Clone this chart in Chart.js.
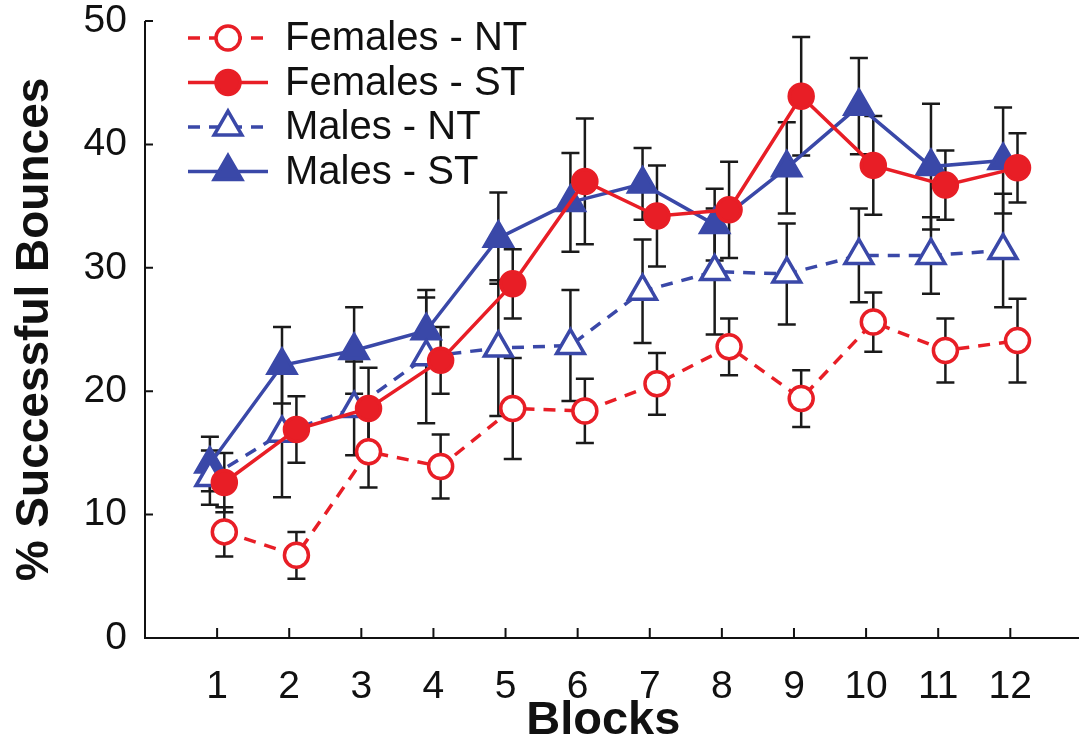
<!DOCTYPE html>
<html>
<head>
<meta charset="utf-8">
<script src="https://cdn.jsdelivr.net/npm/chart.js@4.4.1/dist/chart.umd.min.js"></script>
<style>
  html, body { margin: 0; padding: 0; background: #fff; }
</style>
</head>
<body>
<canvas id="chart" width="1081" height="751"></canvas>
<script>
// Values
const blocks = [1, 2, 3, 4, 5, 6, 7, 8, 9, 10, 11, 12];
const yTicks = [0, 10, 20, 30, 40, 50];

const femalesNT    = [8.6, 6.7, 15.1, 13.9, 18.6, 18.4, 20.6, 23.6, 19.4, 25.6, 23.3, 24.1];
const femalesNTErr = [2.0, 1.9, 2.9, 2.6, 4.1, 2.6, 2.5, 2.3, 2.3, 2.4, 2.6, 3.4];

const femalesST    = [12.6, 16.9, 18.6, 22.5, 28.7, 37.0, 34.2, 34.7, 43.9, 38.3, 36.7, 38.1];
const femalesSTErr = [2.4, 2.7, 3.3, 2.7, 2.8, 5.1, 4.1, 3.9, 4.8, 4.0, 2.8, 2.8];

const malesNT    = [13.0, 16.6, 18.6, 22.8, 23.5, 23.7, 28.1, 29.7, 29.5, 31.0, 31.0, 31.4];
const malesNTErr = [2.2, 5.2, 3.8, 5.4, 5.5, 4.5, 4.2, 5.1, 4.1, 3.8, 3.1, 4.6];

const malesST    = [14.1, 22.1, 23.3, 24.9, 32.4, 35.3, 36.8, 33.5, 38.1, 43.1, 38.2, 38.7];
const malesSTErr = [2.2, 3.1, 3.5, 2.7, 3.7, 4.0, 2.9, 2.9, 3.7, 3.9, 5.1, 4.3];

const RED = '#e81e26';
const BLUE = '#3a48a8';
const FONT = '"Liberation Sans", Arial, Helvetica, sans-serif';

// small horizontal shift so the groups don't sit on top of each other
function makeSeries(label, values, errs, shift, color, style, dashed, filled, radius) {
  return {
    label: label,
    data: blocks.map((b, i) => ({ x: b + shift, y: values[i], err: errs[i] })),
    borderColor: color,
    borderWidth: 3.5,
    borderDash: dashed ? [12, 9] : [],
    pointStyle: style,
    pointRadius: radius,
    pointHoverRadius: radius,
    pointBorderWidth: 3.5,
    pointBorderColor: color,
    pointBackgroundColor: filled ? color : '#ffffff',
    fill: false,
    tension: 0
  };
}

const datasets = [
  makeSeries('Females - NT', femalesNT, femalesNTErr, 0.1, RED, 'circle', true, false, 12),
  makeSeries('Females - ST', femalesST, femalesSTErr, 0.1, RED, 'circle', false, true, 12),
  makeSeries('Males - NT', malesNT, malesNTErr, -0.1, BLUE, 'triangle', true, false, 16),
  makeSeries('Males - ST', malesST, malesSTErr, -0.1, BLUE, 'triangle', false, true, 16)
];

// error bars, drawn under the lines
const errorBars = {
  id: 'errorBars',
  beforeDatasetsDraw(chart) {
    const { ctx, scales: { x, y } } = chart;
    ctx.save();
    ctx.strokeStyle = '#1a1a1a';
    ctx.lineWidth = 2.5;
    chart.data.datasets.forEach(ds => {
      ds.data.forEach(p => {
        const px = x.getPixelForValue(p.x);
        const top = y.getPixelForValue(p.y + p.err);
        const bot = y.getPixelForValue(p.y - p.err);
        ctx.beginPath();
        ctx.moveTo(px, top); ctx.lineTo(px, bot);
        ctx.moveTo(px - 9, top); ctx.lineTo(px + 9, top);
        ctx.moveTo(px - 9, bot); ctx.lineTo(px + 9, bot);
        ctx.stroke();
      });
    });
    ctx.restore();
  }
};

// axis lines with inward ticks; x axis line runs on to block 13
const axes = {
  id: 'axes',
  beforeDatasetsDraw(chart) {
    const { ctx, chartArea: a, scales: { x, y } } = chart;
    ctx.save();
    ctx.strokeStyle = '#111';
    ctx.lineWidth = 2;
    ctx.beginPath();
    ctx.moveTo(a.left, a.top); ctx.lineTo(a.left, a.bottom);
    ctx.lineTo(Math.min(x.getPixelForValue(13), chart.width - 2), a.bottom);
    yTicks.forEach(v => {
      const py = y.getPixelForValue(v);
      ctx.moveTo(a.left, py); ctx.lineTo(a.left + 8, py);
    });
    blocks.forEach(b => {
      const px = x.getPixelForValue(b);
      ctx.moveTo(px, a.bottom); ctx.lineTo(px, a.bottom - 10);
    });
    ctx.stroke();
    ctx.restore();
  }
};

// legend: line sample with marker in the middle
const lineLegend = {
  id: 'lineLegend',
  afterDraw(chart) {
    const ctx = chart.ctx;
    ctx.save();
    chart.data.datasets.forEach((ds, i) => {
      const cy = 38 + i * 44.5;
      ctx.strokeStyle = ds.borderColor;
      ctx.lineWidth = 3.5;
      ctx.setLineDash(ds.borderDash);
      ctx.beginPath();
      ctx.moveTo(188, cy); ctx.lineTo(268, cy);
      ctx.stroke();
      ctx.setLineDash([]);
      ctx.fillStyle = ds.pointBackgroundColor;
      ctx.strokeStyle = ds.pointBorderColor;
      ctx.lineWidth = ds.pointBorderWidth;
      Chart.helpers.drawPoint(ctx, {
        pointStyle: ds.pointStyle,
        radius: ds.pointRadius,
        borderWidth: ds.pointBorderWidth,
        rotation: 0
      }, 228, cy);
      ctx.fillStyle = '#111';
      ctx.font = '40px ' + FONT;
      ctx.textBaseline = 'middle';
      ctx.fillText(ds.label, 285, cy + 1);
    });
    ctx.restore();
  }
};

new Chart(document.getElementById('chart'), {
  type: 'line',
  data: { datasets: datasets },
  plugins: [axes, errorBars, lineLegend],
  options: {
    responsive: false,
    animation: false,
    devicePixelRatio: 1,
    layout: { padding: { top: 21, right: 0, bottom: 0, left: 0 } },
    plugins: { legend: { display: false }, tooltip: { enabled: false } },
    scales: {
      x: {
        type: 'linear',
        min: 0,
        max: 12.71,
        grid: { display: false },
        border: { display: false },
        afterBuildTicks: s => { s.ticks = blocks.map(v => ({ value: v })); },
        afterFit: s => { s.height = 113; },
        ticks: {
          color: '#111',
          padding: 18,
          maxRotation: 0,
          autoSkip: false,
          font: { family: FONT, size: 39 }
        },
        title: {
          display: true,
          text: 'Blocks',
          color: '#111',
          padding: { top: 0, bottom: 2 },
          font: { family: FONT, size: 47, weight: 'bold' }
        }
      },
      y: {
        min: 0,
        max: 50,
        grid: { display: false },
        border: { display: false },
        afterBuildTicks: s => { s.ticks = yTicks.map(v => ({ value: v })); },
        afterFit: s => { s.width = 145; s.paddingTop = 0; s.paddingBottom = 0; },
        ticks: {
          color: '#111',
          padding: 10,
          font: { family: FONT, size: 39, lineHeight: 1 }
        },
        title: {
          display: true,
          text: '% Successful Bounces',
          color: '#111',
          padding: { top: 8, bottom: 0 },
          font: { family: FONT, size: 46, weight: 'bold' }
        }
      }
    }
  }
});
</script>
</body>
</html>
